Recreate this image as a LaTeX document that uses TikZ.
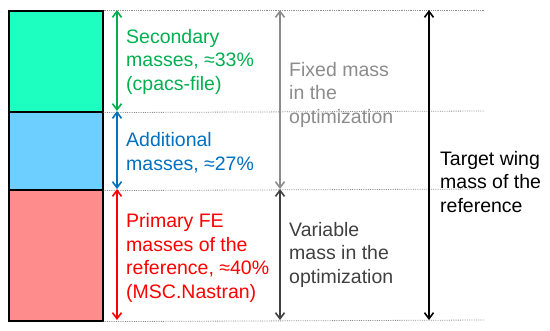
\documentclass[tikz,border=0pt]{standalone}
\usepackage{fontspec}
\setmainfont{Liberation Sans}
\usetikzlibrary{arrows.meta,positioning}
\definecolor{secfill}{HTML}{1CFFC0}
\definecolor{addfill}{HTML}{6CCFFF}
\definecolor{primfill}{HTML}{FF8C8C}
\definecolor{secline}{HTML}{00B050}
\definecolor{addline}{HTML}{0070C0}
\definecolor{primline}{HTML}{FF0000}
\definecolor{fixgray}{HTML}{8C8C8C}
\definecolor{vargray}{HTML}{404040}

\begin{document}
\begin{tikzpicture}[
  x=1pt, y=-1pt,
  >={Straight Barb[length=6pt,width=9pt,line width=1.6pt]},
  massBox/.style={draw=black, line width=1.6pt, minimum width=94pt, anchor=north west, inner sep=0pt},
  guide/.style={densely dotted, line width=0.8pt, color=black!45},
  arr/.style={<->, line width=1.6pt},
  lbl/.style={anchor=base west, align=left, inner sep=0pt, font=\fontsize{19.5}{23.5}\selectfont},
]
\useasboundingbox (0,0) rectangle (550,330);

% stacked masses
\node[massBox, fill=secfill, minimum height=101pt] (sec) at (8,10) {};
\node[massBox, fill=addfill, minimum height=78pt] (add) at (8,111) {};
\node[massBox, fill=primfill, minimum height=131pt] (prim) at (8,189) {};

% level lines
\coordinate (l0) at (485,10);
\coordinate (l1) at (485,111);
\coordinate (l2) at (485,189);
\coordinate (l3) at (485,320);
\draw[guide] (sec.north east) -- (l0);
\draw[guide] (sec.south east) -- (l1);
\draw[guide] (add.south east) -- (l2);
\draw[guide] (prim.south east) -- (l3);

% arrow ends
\coordinate (a0) at (117,10);
\coordinate (a1) at (117,111);
\coordinate (a2) at (117,189);
\coordinate (a3) at (117,320);
\coordinate (b0) at (280,10);
\coordinate (b2) at (280,189);
\coordinate (b3) at (280,320);
\coordinate (c0) at (429,10);
\coordinate (c3) at (429,320);

\draw[arr, color=secline] (a0) -- (a1);
\draw[arr, color=addline] (a1) -- (a2);
\draw[arr, color=primline] (a2) -- (a3);
\draw[arr, color=fixgray] (b0) -- (b2);
\draw[arr, color=vargray] (b2) -- (b3);
\draw[arr, color=black] (c0) -- (c3);

% labels (anchored at the last baseline)
\node[lbl, text=secline] (secText) at (126,90) {Secondary\\masses, ≈33\%\\(cpacs-file)};
\node[lbl, text=addline] (addText) at (126,170) {Additional\\masses, ≈27\%};
\node[lbl, text=primline] (primText) at (126,298) {Primary FE\\masses of the\\reference, ≈40\%\\(MSC.Nastran)};
\node[lbl, text=fixgray] (fixText) at (289,123) {Fixed mass\\in the\\optimization};
\node[lbl, text=vargray] (varText) at (289,283) {Variable\\mass in the\\optimization};
\node[lbl, text=black] (tgtText) at (440,212) {Target wing\\mass of the\\reference};

\end{tikzpicture}
\end{document}
